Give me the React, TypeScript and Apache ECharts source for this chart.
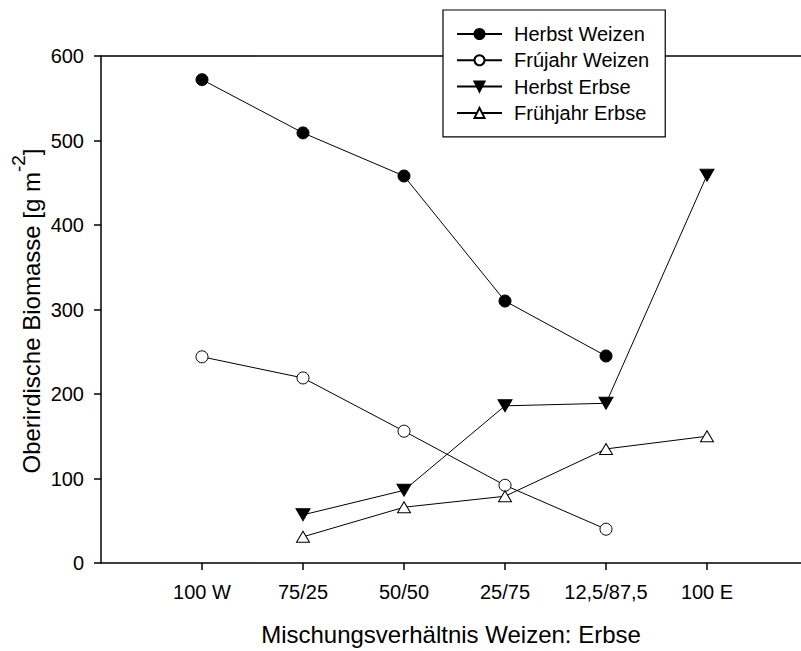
import React, { useEffect, useRef } from "react";
import * as echarts from "echarts";

const categories = ["100 W", "75/25", "50/50", "25/75", "12,5/87,5", "100 E"];
const herbstWeizen = [572, 509, 458, 310, 245, null];
const fruejahrWeizen = [244, 219, 156, 92, 40, null];
const herbstErbse = [null, 57, 86, 186, 189, 459];
const fruehjahrErbse = [null, 31, 66, 79, 135, 150];
const yTicks = { min: 0, max: 600, interval: 100 };

const FONT = "Liberation Sans, Arial, sans-serif";
const yTitleMain = "Oberirdische Biomasse [g m";
const yTitleSup = "-2";
const yTitleEnd = "]";

function measure(text: string, size: number) {
  const c = document.createElement("canvas").getContext("2d");
  if (!c) return text.length * size * 0.5;
  c.font = `${size}px "Liberation Sans", Arial, sans-serif`;
  return c.measureText(text).width;
}

export default function App() {
  const ref = useRef<HTMLDivElement>(null);
  useEffect(() => {
    if (!ref.current) return;
    const chart = echarts.init(ref.current, undefined, { renderer: "svg" });
    const positions = categories.map((_, i) => i + 1);
    const toPairs = (arr: (number | null)[]) =>
      arr.map((v, i) => [positions[i], v]).filter((p) => p[1] !== null);
    const lineStyle = { color: "#000", width: 1 };
    const xMax = 700 / 101;

    const mainSize = 24;
    const supSize = 19;
    const wMain = measure(yTitleMain, mainSize);
    const wSup = measure(yTitleSup, supSize);
    const wEnd = measure(yTitleEnd, mainSize);
    const total = wMain + wSup + wEnd;
    const centerY = 311;
    const y0 = centerY + total / 2;
    const titleX = 31.5;
    const supX = 18;

    chart.setOption({
      animation: false,
      backgroundColor: "#fff",
      textStyle: { fontFamily: FONT, color: "#000" },
      grid: {
        left: 101,
        top: 56,
        bottom: 85,
        right: 0,
        show: false,
      },
      legend: {
        left: 443,
        top: 10,
        orient: "vertical",
        backgroundColor: "#fff",
        borderColor: "#000",
        borderWidth: 1.2,
        borderRadius: 0,
        padding: [14, 16, 14, 13],
        itemWidth: 45,
        itemHeight: 12.5,
        itemGap: 6.3,
        z: 10,
        textStyle: { fontFamily: FONT, fontSize: 20, color: "#000", padding: [0, 0, 0, 7] },
        data: ["Herbst Weizen", "Frújahr Weizen", "Herbst Erbse", "Frühjahr Erbse"],
      },
      graphic: [
        {
          type: "text",
          x: titleX,
          y: y0,
          rotation: Math.PI / 2,
          style: {
            text: yTitleMain,
            fontSize: mainSize,
            fontFamily: FONT,
            fill: "#000",
            align: "left",
            verticalAlign: "middle",
          },
        },
        {
          type: "text",
          x: supX,
          y: y0 - wMain,
          rotation: Math.PI / 2,
          style: {
            text: yTitleSup,
            fontSize: supSize,
            fontFamily: FONT,
            fill: "#000",
            align: "left",
            verticalAlign: "middle",
          },
        },
        {
          type: "text",
          x: titleX,
          y: y0 - wMain - wSup,
          rotation: Math.PI / 2,
          style: {
            text: yTitleEnd,
            fontSize: mainSize,
            fontFamily: FONT,
            fill: "#000",
            align: "left",
            verticalAlign: "middle",
          },
        },
      ],
      xAxis: [
        {
          type: "value",
          min: 0,
          max: xMax,
          interval: 1,
          name: "Mischungsverhältnis Weizen: Erbse",
          nameLocation: "middle",
          nameGap: 59,
          nameTextStyle: { fontFamily: FONT, fontSize: 24, color: "#000" },
          axisLine: { show: true, onZero: false, lineStyle: { color: "#000", width: 1.5 } },
          axisTick: {
            show: true,
            length: 7,
            customValues: positions,
            lineStyle: { color: "#000", width: 1.5 },
          },
          axisLabel: {
            customValues: positions,
            margin: 19,
            fontFamily: FONT,
            fontSize: 20,
            color: "#000",
            formatter: (v: number) => categories[Math.round(v) - 1] ?? "",
          },
          splitLine: { show: false },
        },
        {
          type: "value",
          position: "top",
          min: 0,
          max: xMax,
          interval: 1,
          axisLine: { show: true, onZero: false, lineStyle: { color: "#000", width: 1.5 } },
          axisTick: { show: false },
          axisLabel: { show: false },
          splitLine: { show: false },
        },
      ],
      yAxis: {
        type: "value",
        min: yTicks.min,
        max: yTicks.max,
        interval: yTicks.interval,
        axisLine: { show: true, lineStyle: { color: "#000", width: 1.5 } },
        axisTick: { show: true, length: 7, lineStyle: { color: "#000", width: 1.5 } },
        axisLabel: { margin: 17, fontFamily: FONT, fontSize: 20, color: "#000" },
        splitLine: { show: false },
      },
      series: [
        {
          name: "Herbst Weizen",
          type: "line",
          data: toPairs(herbstWeizen),
          symbol: "circle",
          symbolSize: 12,
          itemStyle: { color: "#000", borderColor: "#000", borderWidth: 1 },
          lineStyle,
          z: 3,
        },
        {
          name: "Frújahr Weizen",
          type: "line",
          data: toPairs(fruejahrWeizen),
          symbol: "circle",
          symbolSize: 12,
          itemStyle: { color: "#fff", borderColor: "#000", borderWidth: 1 },
          lineStyle,
          z: 3,
        },
        {
          name: "Herbst Erbse",
          type: "line",
          data: toPairs(herbstErbse),
          symbol: "path://M0,0L10,0L5,10Z",
          symbolKeepAspect: false,
          symbolSize: [14, 12],
          itemStyle: { color: "#000", borderColor: "#000", borderWidth: 1 },
          lineStyle,
          z: 3,
        },
        {
          name: "Frühjahr Erbse",
          type: "line",
          data: toPairs(fruehjahrErbse),
          symbol: "triangle",
          symbolSize: [13, 11],
          itemStyle: { color: "#fff", borderColor: "#000", borderWidth: 1 },
          lineStyle,
          z: 3,
        },
      ],
    });
    return () => chart.dispose();
  }, []);
  return (
    <div
      ref={ref}
      style={{ position: "fixed", left: 0, top: 0, width: 801, height: 651, background: "#fff" }}
    />
  );
}
